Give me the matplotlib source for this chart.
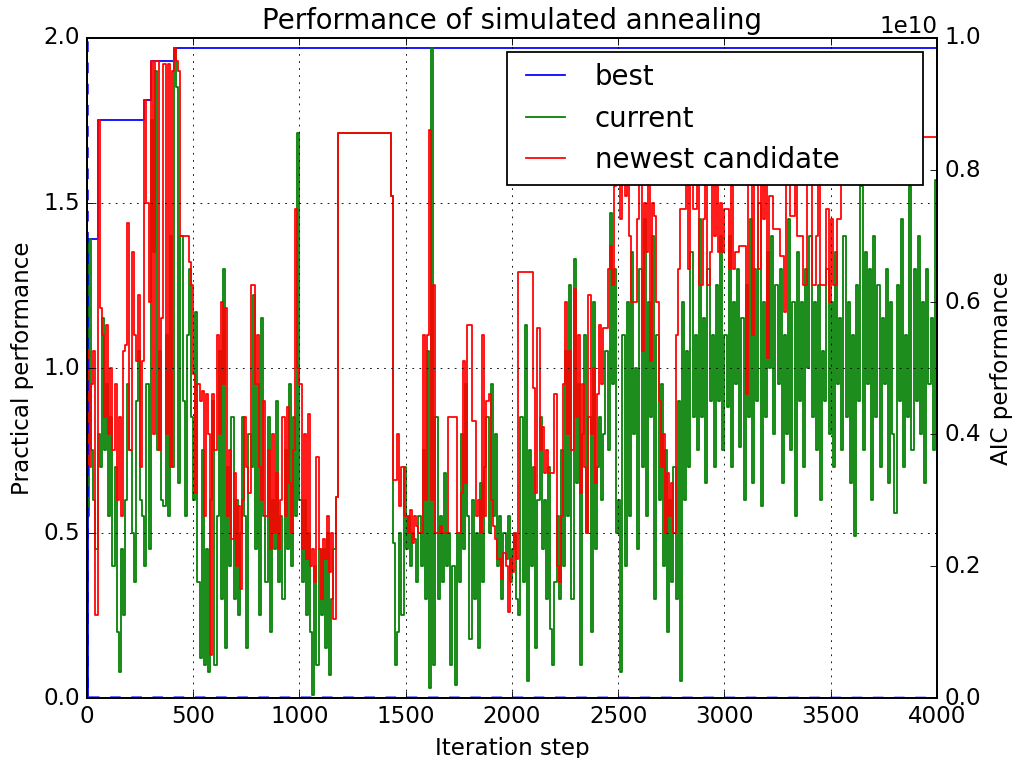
import numpy as np
import matplotlib
matplotlib.use('Agg')
from matplotlib import pyplot as plt

plt.style.use('classic')
plt.rcParams['font.size'] = 13

# one value every 10 iterations, drawn as steps
step = 10
iters = np.arange(0, 4000, step)

current = [
    0.55, 1.39, 0.75, 0.60, 0.45, 0.80, 0.70, 1.15, 0.75, 0.95,   # 0
    0.55, 0.85, 0.40, 0.70, 0.20, 0.08, 0.45, 0.25, 0.60, 0.95,   # 100
    0.75, 0.50, 0.35, 0.90, 1.05, 0.60, 0.55, 0.40, 0.95, 0.45,   # 200
    1.75, 1.35, 1.90, 0.75, 1.05, 0.60, 0.58, 1.10, 0.55, 1.40,   # 300
    0.70, 1.97, 1.85, 0.65, 1.40, 0.90, 0.55, 1.10, 1.30, 0.85,   # 400
    0.60, 1.17, 0.35, 0.12, 0.75, 0.10, 0.45, 0.08, 0.60, 0.90,   # 500
    0.10, 0.55, 1.05, 0.30, 1.30, 0.15, 0.70, 0.40, 0.85, 0.30,   # 600
    0.60, 0.25, 0.50, 0.85, 0.55, 0.15, 0.80, 0.70, 1.22, 0.45,   # 700
    0.95, 0.25, 1.15, 0.55, 0.35, 0.85, 0.20, 0.60, 0.45, 0.90,   # 800
    0.35, 0.55, 0.30, 0.75, 0.45, 0.95, 0.40, 0.85, 0.55, 1.71,   # 900
    0.60, 0.35, 0.60, 0.25, 0.50, 0.20, 0.01, 0.40, 0.10, 0.45,   # 1000
    0.25, 0.45, 0.15, 0.50, 0.07, 0.30, 0.45, 0.61, 1.71, 1.71,   # 1100
    1.71, 1.71, 1.71, 1.71, 1.71, 1.71, 1.71, 1.71, 1.71, 1.71,   # 1200
    1.71, 1.71, 1.71, 1.71, 1.71, 1.71, 1.71, 1.71, 1.71, 1.71,   # 1300
    1.71, 1.71, 1.71, 1.52, 0.47, 0.10, 0.20, 0.50, 0.25, 0.70,   # 1400
    0.45, 0.55, 0.40, 0.50, 0.48, 0.35, 0.55, 0.40, 0.75, 0.30,   # 1500
    1.05, 0.03, 1.97, 0.10, 0.85, 0.30, 0.55, 0.35, 0.68, 0.40,   # 1600
    0.50, 0.10, 0.40, 0.04, 0.50, 0.35, 0.80, 0.45, 0.95, 0.55,   # 1700
    0.18, 0.60, 0.30, 0.50, 0.15, 0.65, 0.35, 0.70, 0.85, 0.50,   # 1800
    0.95, 0.55, 0.80, 0.40, 0.55, 0.30, 0.50, 0.42, 0.55, 0.35,   # 1900
    0.45, 0.50, 0.30, 0.25, 0.85, 0.35, 1.13, 0.05, 0.75, 0.40,   # 2000
    0.70, 0.15, 0.60, 0.85, 0.45, 0.60, 0.30, 0.70, 0.21, 0.10,   # 2100
    0.35, 0.55, 0.30, 0.75, 0.40, 1.05, 0.55, 1.25, 0.30, 1.33,   # 2200
    0.65, 0.95, 0.10, 0.80, 1.10, 0.50, 0.85, 0.20, 1.20, 0.45,   # 2300
    0.70, 0.85, 0.60, 0.80, 1.05, 0.75, 1.47, 0.95, 1.30, 0.50,   # 2400
    0.60, 0.08, 1.10, 0.40, 1.20, 0.55, 1.35, 0.80, 1.00, 0.45,   # 2500
    1.30, 0.70, 1.45, 0.55, 1.20, 0.85, 1.40, 0.30, 1.10, 0.60,   # 2600
    0.95, 0.40, 0.75, 0.20, 0.60, 0.35, 0.70, 0.30, 0.90, 0.05,   # 2700
    1.20, 0.60, 1.05, 0.70, 1.35, 0.85, 1.10, 0.75, 1.45, 0.85,   # 2800
    1.15, 0.65, 1.30, 0.90, 1.10, 0.70, 1.25, 0.90, 1.40, 0.75,   # 2900
    1.10, 0.88, 1.40, 0.70, 1.20, 0.95, 1.30, 0.76, 1.15, 0.60,   # 3000
    1.25, 0.85, 1.45, 0.65, 1.30, 0.90, 1.50, 0.58, 1.20, 0.85,   # 3100
    1.35, 1.00, 1.40, 0.80, 1.25, 0.95, 1.30, 0.65, 1.10, 0.80,   # 3200
    1.45, 0.75, 1.20, 0.55, 1.35, 0.90, 1.20, 0.70, 1.30, 1.00,   # 3300
    1.40, 0.85, 1.20, 0.75, 1.25, 0.60, 1.05, 0.90, 1.30, 0.80,   # 3400
    1.20, 0.70, 1.35, 0.95, 1.15, 0.75, 1.40, 0.85, 1.20, 0.65,   # 3500
    1.10, 0.49, 1.25, 0.90, 1.55, 0.75, 1.35, 0.95, 1.30, 0.60,   # 3600
    1.40, 0.85, 1.25, 0.70, 1.15, 0.95, 1.30, 0.65, 1.20, 0.80,   # 3700
    0.56, 1.25, 0.90, 1.45, 0.70, 1.10, 0.85, 1.55, 0.75, 1.30,   # 3800
    0.90, 1.40, 0.80, 1.20, 0.65, 1.30, 0.95, 1.15, 0.75, 1.57,   # 3900
]

candidate = [
    1.05, 0.70, 0.95, 1.05, 0.25, 1.75, 1.18, 1.10, 0.85, 1.13,   # 0
    0.80, 1.00, 0.75, 0.95, 0.60, 0.85, 0.55, 1.05, 1.07, 1.44,   # 100
    0.75, 1.35, 1.10, 1.02, 1.22, 0.70, 1.02, 1.81, 1.50, 1.20,   # 200
    1.93, 0.80, 1.93, 1.93, 0.75, 1.15, 1.92, 0.80, 1.92, 0.70,   # 300
    1.90, 1.97, 1.93, 1.90, 1.40, 1.40, 1.40, 1.40, 1.32, 1.25,   # 400
    0.98, 0.62, 0.95, 0.90, 0.93, 0.55, 0.92, 0.80, 0.13, 0.92,   # 500
    0.75, 1.10, 0.80, 1.20, 0.95, 1.18, 0.55, 0.75, 0.48, 0.68,   # 600
    0.40, 0.58, 0.33, 0.60, 0.85, 0.70, 0.62, 1.25, 1.25, 0.95,   # 700
    1.10, 0.70, 0.60, 0.90, 0.55, 0.75, 0.45, 0.80, 0.50, 0.68,   # 800
    0.45, 0.60, 0.85, 0.55, 0.88, 0.65, 0.50, 0.75, 1.48, 1.00,   # 900
    0.95, 0.45, 0.80, 0.42, 0.86, 0.40, 0.45, 0.35, 0.73, 0.45,   # 1000
    0.30, 0.48, 0.42, 0.55, 0.38, 0.50, 0.24, 0.61, 1.71, 1.71,   # 1100
    1.71, 1.71, 1.71, 1.71, 1.71, 1.71, 1.71, 1.71, 1.71, 1.71,   # 1200
    1.71, 1.71, 1.71, 1.71, 1.71, 1.71, 1.71, 1.71, 1.71, 1.71,   # 1300
    1.71, 1.71, 1.71, 1.52, 0.66, 0.66, 0.80, 0.58, 0.70, 0.55,   # 1400
    0.55, 0.50, 0.57, 0.47, 0.55, 0.52, 0.50, 0.50, 1.10, 0.60,   # 1500
    1.10, 1.72, 0.60, 1.25, 0.50, 0.50, 0.52, 0.50, 0.50, 0.50,   # 1600
    0.85, 0.85, 0.85, 0.85, 0.50, 0.50, 0.62, 1.02, 0.65, 1.13,   # 1700
    1.13, 0.84, 0.84, 0.55, 0.60, 0.50, 1.10, 0.55, 0.90, 0.92,   # 1800
    0.60, 0.52, 0.48, 0.42, 0.42, 0.36, 0.44, 0.40, 0.26, 0.42,   # 1900
    0.38, 0.50, 0.42, 1.29, 1.29, 1.29, 1.29, 1.29, 1.29, 1.29,   # 2000
    0.94, 0.62, 1.12, 0.75, 0.82, 0.68, 0.75, 0.68, 0.68, 0.68,   # 2100
    0.92, 0.40, 0.35, 0.55, 0.95, 1.20, 0.80, 1.05, 0.75, 1.24,   # 2200
    0.85, 1.10, 0.62, 0.95, 0.70, 0.50, 1.22, 0.80, 1.00, 0.65,   # 2300
    0.92, 1.13, 0.95, 1.12, 1.12, 1.30, 1.37, 1.25, 1.55, 1.60,   # 2400
    1.60, 1.45, 1.60, 1.52, 1.65, 1.40, 1.20, 1.20, 1.20, 1.45,   # 2500
    1.60, 1.05, 1.50, 1.35, 1.65, 1.02, 1.50, 1.46, 1.20, 0.90,   # 2600
    0.70, 0.80, 0.50, 0.68, 0.55, 0.65, 0.50, 1.10, 1.30, 1.48,   # 2700
    1.48, 1.48, 1.60, 1.30, 1.60, 1.48, 1.48, 1.60, 1.25, 1.25,   # 2800
    1.45, 1.60, 1.25, 1.35, 1.60, 1.40, 1.60, 1.35, 1.50, 1.35,   # 2900
    1.48, 1.48, 1.30, 1.55, 1.30, 1.35, 1.35, 1.37, 1.37, 1.37,   # 3000
    0.92, 1.60, 1.60, 1.10, 1.60, 1.60, 1.30, 1.60, 1.45, 1.60,   # 3100
    1.03, 1.52, 1.52, 1.42, 1.42, 1.42, 1.34, 1.34, 1.17, 1.60,   # 3200
    1.60, 1.46, 1.46, 1.60, 1.40, 1.40, 1.40, 1.25, 1.25, 1.60,   # 3300
    1.60, 1.25, 1.25, 1.40, 1.60, 1.25, 1.25, 1.25, 1.48, 1.20,   # 3400
    1.45, 1.25, 1.25, 1.45, 1.45, 1.70, 1.70, 1.70, 1.70, 1.70,   # 3500
    1.70, 1.70, 1.70, 1.70, 1.70, 1.70, 1.70, 1.70, 1.70, 1.70,   # 3600
    1.70, 1.70, 1.70, 1.70, 1.70, 1.70, 1.70, 1.70, 1.70, 1.70,   # 3700
    1.70, 1.70, 1.70, 1.70, 1.70, 1.70, 1.70, 1.70, 1.70, 1.70,   # 3800
    1.70, 1.70, 1.70, 1.70, 1.70, 1.70, 1.70, 1.70, 1.70, 1.70,   # 3900
]

best_iter = [0, 5, 50, 270, 300, 410, 4000]
best_perf = [0.0, 1.39, 1.75, 1.81, 1.93, 1.97, 1.97]

aic_iter = [4, 5, 4000]
aic_perf = [1.1e10, 1.0e7, 5.0e6]

assert len(current) == len(iters) == len(candidate)

# repeat the last value so the steps run to the end of the axis
x = np.append(iters, 4000)
cur = np.append(current, current[-1])
cand = np.append(candidate, candidate[-1])

fig = plt.figure(figsize=(8, 5.965))
fig.subplots_adjust(left=0.0855, right=0.9213, bottom=0.0792, top=0.9499)
ax = fig.add_subplot(111)

ax.step(best_iter, best_perf, where='post', color='b', label='best')
ax.step(x, cur, where='post', color='g', label='current')
ax.step(x, cand, where='post', color='r', label='newest candidate')

ax.set_xlim(0, 4000)
ax.set_ylim(0, 2.0)
ax.set_xlabel('Iteration step')
ax.set_ylabel('Practical performance')
ax.set_title('Performance of simulated annealing')
ax.grid(True)
ax.legend(loc='upper right', bbox_to_anchor=(0.494, 0.0, 0.4895, 0.979),
          mode='expand', borderaxespad=0)

ax2 = ax.twinx()
ax2.plot(aic_iter, aic_perf, 'b--')
ax2.set_xlim(0, 4000)
ax2.set_ylim(0, 1.0e10)
ax2.set_ylabel('AIC performance')

fig.savefig('out.png', dpi=127.125, facecolor='white')
